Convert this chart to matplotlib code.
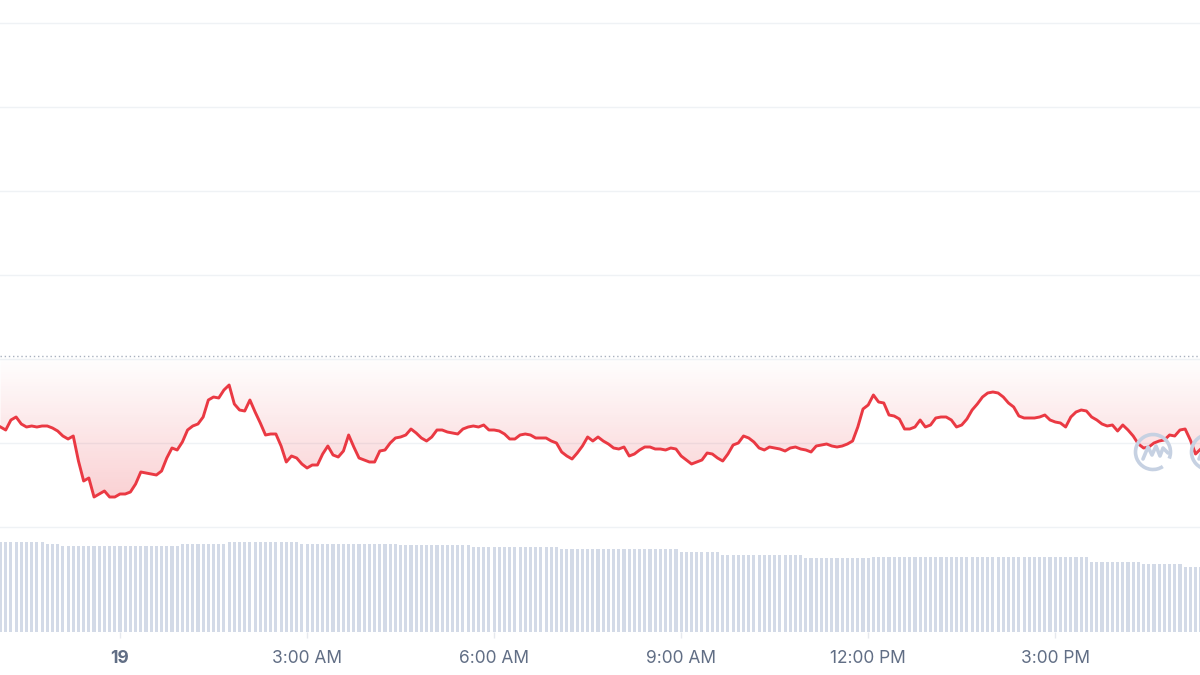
import numpy as np
import matplotlib.pyplot as plt
from matplotlib.colors import LinearSegmentedColormap
from matplotlib.patches import Arc
from matplotlib.lines import Line2D
from matplotlib.transforms import IdentityTransform

plt.rcParams['font.family'] = ['Inter', 'DejaVu Sans']

# 5 minute points, time in minutes from midnight of the 19th
start_min = -115
step_min = 5

price = [
    173, 170, 180, 183, 176, 173, 174, 173, 174, 174, 172, 169, 164, 161, 164, 139, 119, 122, 103, 106,
    109, 103, 103, 106, 106, 108, 116, 128, 127, 126, 125, 129, 142, 152, 150, 158, 170, 174, 176, 183,
    200, 203, 202, 210, 215, 196, 190, 189, 200, 188, 177, 165, 166, 166, 154, 138, 144, 142, 136, 132,
    135, 135, 146, 154, 145, 143, 149, 165, 153, 142, 140, 138, 138, 149, 150, 157, 162, 163, 165, 171,
    167, 162, 159, 163, 170, 170, 168, 167, 166, 171, 173, 174, 173, 175, 170, 170, 169, 166, 161, 161,
    165, 166, 165, 162, 162, 162, 159, 157, 148, 144, 141, 147, 154, 163, 159, 163, 159, 156, 152, 151,
    153, 144, 146, 150, 153, 153, 151, 151, 150, 152, 151, 144, 140, 136, 138, 140, 147, 146, 142, 139,
    146, 155, 157, 164, 162, 158, 152, 150, 153, 152, 151, 149, 152, 153, 151, 150, 148, 154, 155, 156,
    154, 153, 154, 156, 159, 173, 191, 195, 205, 198, 197, 185, 184, 181, 171, 171, 173, 180, 173, 175,
    182, 183, 183, 180, 173, 175, 181, 190, 196, 203, 207, 208, 207, 203, 197, 193, 184, 182, 182, 182,
    183, 185, 180, 178, 177, 173, 183, 188, 190, 189, 183, 180, 176, 174, 175, 169, 175, 170, 164, 156,
    152, 153, 157, 159, 160, 165, 164, 170, 171, 160, 146, 151,
]

volume = [
    90, 90, 90, 90, 90, 90, 90, 90, 90, 88, 88, 88, 86, 86, 86, 86, 86, 86, 86, 86,
    86, 86, 86, 86, 86, 86, 86, 86, 86, 86, 86, 86, 86, 86, 86, 88, 88, 88, 88, 88,
    88, 88, 88, 88, 90, 90, 90, 90, 90, 90, 90, 90, 90, 90, 90, 90, 90, 90, 88, 88,
    88, 88, 88, 88, 88, 88, 88, 88, 88, 88, 88, 88, 88, 88, 88, 88, 88, 87, 87, 87,
    87, 87, 87, 87, 87, 87, 87, 87, 87, 87, 87, 85, 85, 85, 85, 85, 85, 85, 85, 85,
    85, 85, 85, 85, 85, 85, 85, 85, 83, 83, 83, 83, 83, 83, 83, 83, 83, 83, 83, 83,
    83, 83, 83, 83, 83, 83, 83, 83, 83, 83, 83, 80, 80, 80, 80, 80, 80, 80, 80, 77,
    77, 77, 77, 77, 77, 77, 77, 77, 77, 77, 77, 77, 77, 77, 77, 74, 74, 74, 74, 74,
    74, 74, 74, 74, 74, 74, 74, 74, 75, 75, 75, 75, 75, 75, 75, 75, 75, 75, 75, 75,
    75, 75, 75, 75, 75, 75, 75, 75, 75, 75, 75, 75, 75, 75, 75, 75, 75, 75, 75, 75,
    75, 75, 75, 75, 75, 75, 75, 75, 75, 75, 70, 70, 70, 70, 70, 70, 70, 70, 70, 70,
    68, 68, 68, 68, 68, 68, 68, 68, 65, 65, 65, 65,
]

open_price = 244.5
price_gridlines = [576.7, 492.7, 409, 325, 241, 157, 73]
tick_minutes = [0, 180, 360, 540, 720, 900]
tick_labels = ['19', '3:00 AM', '6:00 AM', '9:00 AM', '12:00 PM', '3:00 PM']

minutes = np.arange(len(price)) * step_min + start_min
xmin, xmax = -115.5, 1039.3

red = '#ea3943'

fig = plt.figure(figsize=(12, 6.75), dpi=100)
fig.patch.set_facecolor('white')
ax = fig.add_axes([0, 43 / 675, 1, 632 / 675])
ax.set_xlim(xmin, xmax)
ax.set_ylim(-32, 600)

for g in price_gridlines:
    ax.axhline(g, color='#eff2f5', lw=1, zorder=0)

ax.axhline(open_price, color='#a9b1bf', lw=1, ls=(0, (1, 2)), zorder=2)

# gradient fill between open price and the line
fill = ax.fill_between(minutes, price, open_price, color='none', lw=0)
fade = LinearSegmentedColormap.from_list(
    'fade', [(0.918, 0.224, 0.263, 0.0), (0.918, 0.224, 0.263, 0.27)])
grad = np.linspace(0, 1, 256).reshape(-1, 1)
im = ax.imshow(grad, cmap=fade, aspect='auto', extent=[xmin, xmax, 80, open_price],
               origin='upper', zorder=1, interpolation='bilinear')
im.set_clip_path(fill.get_paths()[0], transform=ax.transData)

ax.plot(minutes, price, color=red, lw=2.1, zorder=3, solid_joinstyle='round')
ax.set_xlim(xmin, xmax)
ax.set_ylim(-32, 600)

# volume bars
ax2 = ax.twinx()
ax2.bar(minutes, volume, width=3.0, color='#d3dae7', linewidth=0)
ax2.set_ylim(0, 632)
ax2.set_xlim(xmin, xmax)
ax2.axis('off')

ax.set_xticks(tick_minutes)
ax.set_xticklabels(tick_labels)
ax.set_yticks([])
ax.tick_params(axis='x', length=4, width=1, color='#e6e9ee', pad=9,
               labelsize=12.5, labelcolor='#616e85')
ax.get_xticklabels()[0].set_fontweight('bold')
for s in ax.spines.values():
    s.set_visible(False)

# watermark logo (cropped at the right edge)
logo_col = '#c6d1e2'
for cx in [1153, 1209]:
    cy = 675 - 452
    fig.add_artist(Arc((cx, cy), 35, 35, theta1=-22, theta2=304, lw=2.6,
                       color=logo_col, transform=IdentityTransform(), zorder=5))
    wx = [cx - 10, cx - 5, cx - 1, cx + 3, cx + 7, cx + 10, cx + 15]
    wy = [cy - 7, cy + 5, cy - 3, cy + 6, cy - 4, cy + 4, cy - 1]
    fig.add_artist(Line2D(wx, wy, lw=2.6, color=logo_col, transform=IdentityTransform(),
                          zorder=5, solid_joinstyle='round', solid_capstyle='round'))

fig.savefig('out.png', dpi=100, facecolor='white')
